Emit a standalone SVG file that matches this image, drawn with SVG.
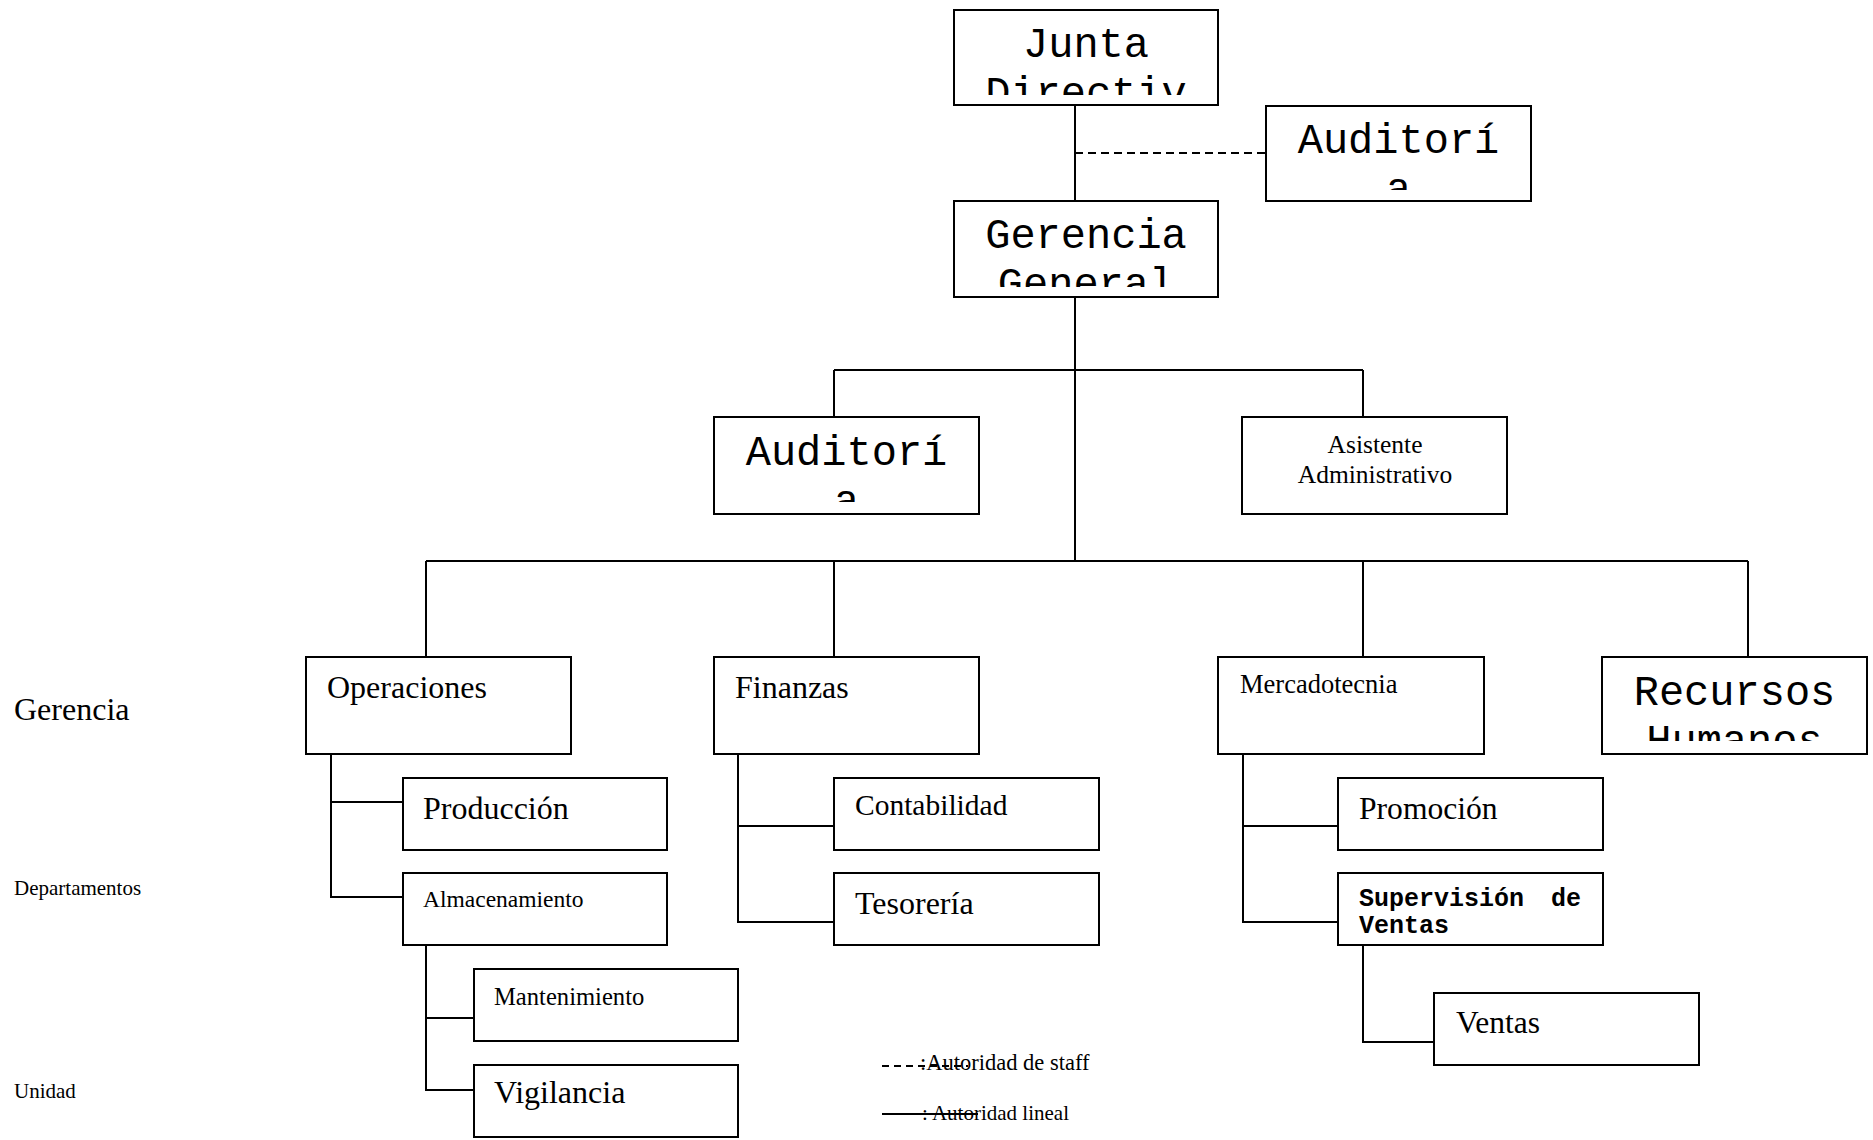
<svg xmlns="http://www.w3.org/2000/svg" width="1873" height="1140" viewBox="0 0 1873 1140">
<style>
.box{fill:#fff;stroke:#000;stroke-width:2}
.ln{stroke:#000;stroke-width:2;fill:none}
.dash{stroke:#000;stroke-width:2;fill:none;stroke-dasharray:8 5}
.mono{font-family:"Liberation Mono","Courier New",monospace;font-size:42px;fill:#000;text-anchor:middle}
.ser{font-family:"Liberation Serif","Times New Roman",serif;fill:#000}
.monob{font-family:"Liberation Mono","Courier New",monospace;font-size:25px;font-weight:bold;fill:#000}
</style>
<defs>
<clipPath id="c-junta"><rect x="955" y="11" width="262" height="84"/></clipPath>
<clipPath id="c-aud1"><rect x="1267" y="107" width="263" height="83"/></clipPath>
<clipPath id="c-ger"><rect x="955" y="202" width="262" height="85"/></clipPath>
<clipPath id="c-aud2"><rect x="715" y="418" width="263" height="84"/></clipPath>
<clipPath id="c-rh"><rect x="1603" y="658" width="263" height="83"/></clipPath>
</defs>
<rect width="1873" height="1140" fill="#fff"/>

<g id="connectors">
<line class="ln" x1="1075" y1="105" x2="1075" y2="201"/>
<line class="dash" x1="1075" y1="153" x2="1266" y2="153"/>
<line class="ln" x1="1075" y1="297" x2="1075" y2="561"/>
<line class="ln" x1="834" y1="370" x2="1363" y2="370"/>
<line class="ln" x1="834" y1="370" x2="834" y2="417"/>
<line class="ln" x1="1363" y1="370" x2="1363" y2="417"/>
<line class="ln" x1="426" y1="561" x2="1748" y2="561"/>
<line class="ln" x1="426" y1="561" x2="426" y2="657"/>
<line class="ln" x1="834" y1="561" x2="834" y2="657"/>
<line class="ln" x1="1363" y1="561" x2="1363" y2="657"/>
<line class="ln" x1="1748" y1="561" x2="1748" y2="657"/>
<polyline class="ln" points="331,754 331,897 403,897"/>
<line class="ln" x1="331" y1="802" x2="403" y2="802"/>
<polyline class="ln" points="426,945 426,1090 474,1090"/>
<line class="ln" x1="426" y1="1018" x2="474" y2="1018"/>
<polyline class="ln" points="738,754 738,922 834,922"/>
<line class="ln" x1="738" y1="826" x2="834" y2="826"/>
<polyline class="ln" points="1243,754 1243,922 1338,922"/>
<line class="ln" x1="1243" y1="826" x2="1338" y2="826"/>
<polyline class="ln" points="1363,945 1363,1042 1434,1042"/>
</g>

<g id="junta-directiva">
<rect class="box" x="954" y="10" width="264" height="95"/>
<g clip-path="url(#c-junta)"><text class="mono" x="1086" y="57">Junta</text><text class="mono" x="1086" y="106">Directiv</text></g>
</g>
<g id="auditoria-staff">
<rect class="box" x="1266" y="106" width="265" height="95"/>
<g clip-path="url(#c-aud1)"><text class="mono" x="1398.5" y="153">Auditorí</text><text class="mono" x="1398.5" y="202">a</text></g>
</g>
<g id="gerencia-general">
<rect class="box" x="954" y="201" width="264" height="96"/>
<g clip-path="url(#c-ger)"><text class="mono" x="1086" y="248">Gerencia</text><text class="mono" x="1086" y="297">General</text></g>
</g>
<g id="auditoria">
<rect class="box" x="714" y="417" width="265" height="97"/>
<g clip-path="url(#c-aud2)"><text class="mono" x="846.5" y="465">Auditorí</text><text class="mono" x="846.5" y="514">a</text></g>
</g>
<g id="asistente-administrativo">
<rect class="box" x="1242" y="417" width="265" height="97"/>
<text class="ser" font-size="25.5" text-anchor="middle"><tspan x="1375" y="453">Asistente</tspan><tspan x="1375" y="483">Administrativo</tspan></text>
</g>
<g id="operaciones">
<rect class="box" x="306" y="657" width="265" height="97"/>
<text class="ser" font-size="32" x="327" y="698">Operaciones</text>
</g>
<g id="finanzas">
<rect class="box" x="714" y="657" width="265" height="97"/>
<text class="ser" font-size="32" x="735" y="698">Finanzas</text>
</g>
<g id="mercadotecnia">
<rect class="box" x="1218" y="657" width="266" height="97"/>
<text class="ser" font-size="26.5" x="1240" y="693">Mercadotecnia</text>
</g>
<g id="recursos-humanos">
<rect class="box" x="1602" y="657" width="265" height="97"/>
<g clip-path="url(#c-rh)"><text class="mono" x="1734.5" y="705">Recursos</text><text class="mono" x="1734.5" y="754">Humanos</text></g>
</g>
<g id="produccion">
<rect class="box" x="403" y="778" width="264" height="72"/>
<text class="ser" font-size="32" x="423" y="819">Producción</text>
</g>
<g id="almacenamiento">
<rect class="box" x="403" y="873" width="264" height="72"/>
<text class="ser" font-size="23.5" x="423" y="907">Almacenamiento</text>
</g>
<g id="mantenimiento">
<rect class="box" x="474" y="969" width="264" height="72"/>
<text class="ser" font-size="24.6" x="494" y="1005">Mantenimiento</text>
</g>
<g id="vigilancia">
<rect class="box" x="474" y="1065" width="264" height="72"/>
<text class="ser" font-size="32" x="494" y="1103">Vigilancia</text>
</g>
<g id="contabilidad">
<rect class="box" x="834" y="778" width="265" height="72"/>
<text class="ser" font-size="29.5" x="855" y="815">Contabilidad</text>
</g>
<g id="tesoreria">
<rect class="box" x="834" y="873" width="265" height="72"/>
<text class="ser" font-size="32" x="855" y="914">Tesorería</text>
</g>
<g id="promocion">
<rect class="box" x="1338" y="778" width="265" height="72"/>
<text class="ser" font-size="31.6" x="1359" y="819">Promoción</text>
</g>
<g id="supervision-ventas">
<rect class="box" x="1338" y="873" width="265" height="72"/>
<text class="monob"><tspan x="1359" y="906">Supervisión</tspan><tspan x="1551" y="906">de</tspan><tspan x="1359" y="933">Ventas</tspan></text>
</g>
<g id="ventas">
<rect class="box" x="1434" y="993" width="265" height="72"/>
<text class="ser" font-size="31.5" x="1456" y="1033">Ventas</text>
</g>

<g id="levels">
<text class="ser" font-size="32" x="14" y="720">Gerencia</text>
<text class="ser" font-size="21" x="14" y="895">Departamentos</text>
<text class="ser" font-size="21" x="14" y="1098">Unidad</text>
</g>

<g id="legend">
<text class="ser" font-size="22.5" x="920" y="1070">:Autoridad de staff</text>
<line x1="882" y1="1066" x2="968" y2="1066" stroke="#000" stroke-width="2" stroke-dasharray="7 5"/>
<text class="ser" font-size="21" x="922" y="1120">: Autoridad lineal</text>
<line x1="882" y1="1114" x2="978" y2="1114" stroke="#000" stroke-width="2"/>
</g>
</svg>
